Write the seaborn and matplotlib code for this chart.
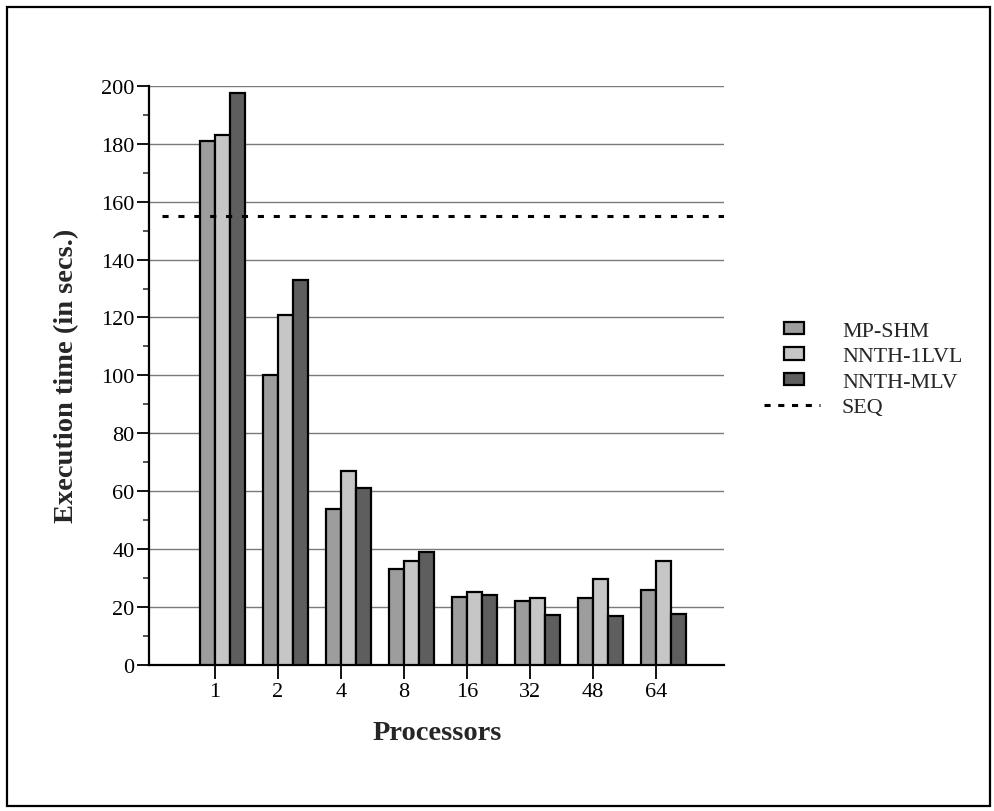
import matplotlib
matplotlib.use("Agg")
import matplotlib.pyplot as plt
import seaborn as sns
import pandas as pd
from matplotlib.patches import Patch, Rectangle
from matplotlib.lines import Line2D
from matplotlib.legend_handler import HandlerPatch

# Execution times (seconds) per processor count
processors = ["1", "2", "4", "8", "16", "32", "48", "64"]
mp_shm = [181, 100, 54, 33, 23.5, 22, 23, 26]
nnth_1lvl = [183, 121, 67, 36, 25, 23, 29.5, 36]
nnth_mlv = [197.5, 133, 61, 39, 24, 17.2, 17, 17.7]
seq_time = 155
series_names = ["MP-SHM", "NNTH-1LVL", "NNTH-MLV"]
series_colors = ["#9d9d9d", "#c6c6c6", "#5e5e5e"]

df = pd.DataFrame({
    "Processors": processors * 3,
    "Time": mp_shm + nnth_1lvl + nnth_mlv,
    "Series": [s for s in series_names for _ in processors],
})

sns.set_style("white")
plt.rcParams["font.family"] = ["Liberation Serif", "DejaVu Serif"]

fig = plt.figure(figsize=(9.95, 8.12), dpi=100)
ax = fig.add_axes([0.150, 0.180, 0.578, 0.713])

sns.barplot(data=df, x="Processors", y="Time", hue="Series",
            hue_order=series_names, order=processors,
            palette=series_colors, width=0.71, gap=0.0,
            edgecolor="black", linewidth=1.6, saturation=1,
            legend=False, ax=ax, zorder=3)

# Sequential reference time
ax.hlines(seq_time, -0.95, 7.95, colors="black", linestyles=(0, (2, 3.2)),
          linewidth=2.2, zorder=4)

ax.set_ylim(0, 200)
ax.set_xlim(-1.16, 7.96)
ax.set_yticks(range(0, 201, 20))
ax.set_yticks(range(10, 200, 20), minor=True)
ax.set_xticks([i - 0.12 for i in range(len(processors))])
ax.set_xticklabels(processors)
ax.yaxis.grid(True, which="major", color="#7a7a7a", linewidth=1.0, zorder=0)
ax.xaxis.grid(False)

for side in ["top", "right"]:
    ax.spines[side].set_visible(False)
for side in ["left", "bottom"]:
    ax.spines[side].set_color("black")
    ax.spines[side].set_linewidth(1.6)

ax.tick_params(axis="y", which="major", direction="out", length=8.5, width=1.3,
               labelsize=16, colors="black", left=True, pad=2)
ax.tick_params(axis="y", which="minor", direction="out", length=4.5, width=1.1,
               left=True)
ax.tick_params(axis="x", which="major", direction="out", length=10, width=1.3,
               labelsize=16, colors="black", bottom=True, pad=2)

ax.set_xlabel("Processors", fontsize=20.5, fontweight="bold", labelpad=14)
ax.set_ylabel("Execution time (in secs.)", fontsize=20.5, fontweight="bold",
              labelpad=16)


def small_box(legend, orig_handle, xdescent, ydescent, width, height, fontsize):
    # Compact swatch centred inside the legend handle area
    w, h = 14.5, 8.8
    return Rectangle((width / 2 - w / 2 - xdescent + 1.5,
                      height / 2 - h / 2 - ydescent), w, h)


handles = [Patch(facecolor=c, edgecolor="black", linewidth=1.6)
           for c in series_colors]
handles.append(Line2D([0], [0], color="black", linestyle=(0, (2, 2.5)),
                      linewidth=2.2))
fig.legend(handles, series_names + ["SEQ"], loc="upper left",
           bbox_to_anchor=(0.748, 0.628), frameon=False, fontsize=15.8,
           handlelength=2.55, handleheight=0.6, handletextpad=1.0,
           labelspacing=0.27,
           handler_map={Patch: HandlerPatch(patch_func=small_box)})

# Outer frame around the whole figure
fig.patches.append(Rectangle((0.007, 0.006), 0.988, 0.984,
                             transform=fig.transFigure, fill=False,
                             edgecolor="black", linewidth=1.6))

fig.savefig("out.png", dpi=100, facecolor="white")
